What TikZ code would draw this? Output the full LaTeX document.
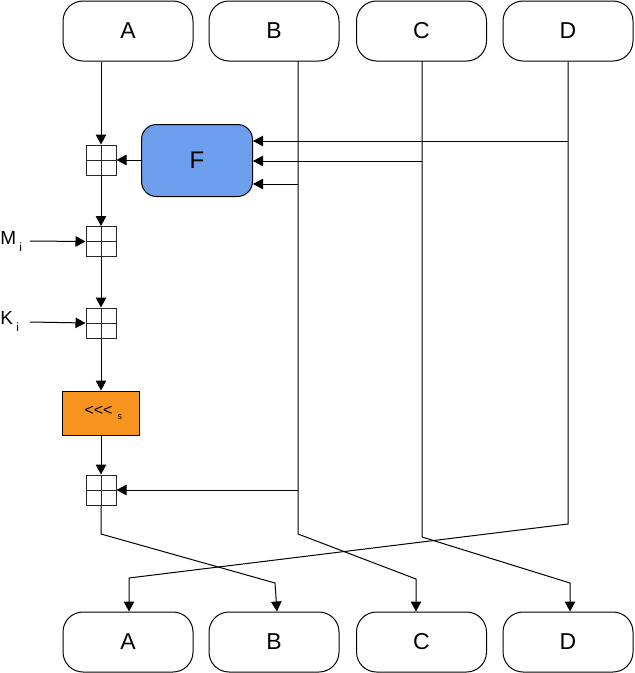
\documentclass[tikz,border=0pt]{standalone}
\usepackage{fontspec}
\setmainfont{Liberation Sans}
\usetikzlibrary{arrows.meta}
\definecolor{fblue}{HTML}{6D9EEB}
\definecolor{forange}{HTML}{F7931E}
\begin{document}
\begin{tikzpicture}[x=1pt,y=-1pt,
  line width=1pt,
  arr/.style={-{Triangle[width=10.5pt,length=10pt]}},
  regbox/.style={draw,rounded corners=20pt,minimum width=130pt,minimum height=60pt,inner sep=0pt,font=\fontsize{23}{23}\selectfont},
  addbox/.style={draw,draw=black!85,minimum width=30pt,minimum height=30pt,inner sep=0pt,fill=white,
    path picture={\draw[line width=1pt,black!85] (path picture bounding box.north) -- (path picture bounding box.south)
      (path picture bounding box.west) -- (path picture bounding box.east);}},
  lbl/.style={inner sep=0pt,font=\fontsize{19}{19}\selectfont}]
\useasboundingbox (0,0) rectangle (635,673);
% top registers
\node[regbox] (A) at (128,31) {A};
\node[regbox] (B) at (274,31) {B};
\node[regbox] (C) at (421.5,31) {C};
\node[regbox] (D) at (568,31) {D};
% bottom registers
\node[regbox] (A2) at (128,642) {A};
\node[regbox] (B2) at (274,642) {B};
\node[regbox] (C2) at (421.5,642) {C};
\node[regbox] (D2) at (568,642) {D};
% F
\node[draw,fill=fblue,rounded corners=15pt,minimum width=111pt,minimum height=72pt,inner sep=0pt,font=\fontsize{24}{24}\selectfont] (F) at (197,160.5) {F};
% adders
\node[addbox] (p1) at (101,160) {};
\node[addbox] (p2) at (101,241.5) {};
\node[addbox] (p3) at (101,323) {};
\node[addbox] (p4) at (101,490) {};
% shift
\node[draw,fill=forange,minimum width=77pt,minimum height=44pt,inner sep=0pt] (S) at (101.3,413) {\hspace{4pt}\fontsize{16}{16}\selectfont{<}{<}{<}\hspace{5pt}\raisebox{-4pt}{\fontsize{9}{9}\selectfont s}};
% labels
\node[lbl,anchor=west] (M) at (0,241) {M\,\raisebox{-7pt}{\fontsize{12}{12}\selectfont i}};
\node[lbl,anchor=west] (K) at (0,321) {K\,\raisebox{-7pt}{\fontsize{12}{12}\selectfont i}};
\coordinate (Mend) at (30,241);
\coordinate (Kend) at (30,322);
% line coordinates
\coordinate (Bt) at (298,61);
\coordinate (Ct) at (422,61);
\coordinate (Db) at (568,141);
\coordinate (Cb) at (422,161);
\coordinate (Bb) at (298,184);
\coordinate (Bd) at (298,490);
% A chain
\draw[arr] (p1 |- A.south) -- (p1.north);
\draw[arr] (F.west |- p1) -- (p1.east);
\draw[arr] (p1.south) -- (p2.north);
\draw[arr] (Mend) -- (p2.west);
\draw[arr] (p2.south) -- (p3.north);
\draw[arr] (Kend) -- (p3.west);
\draw[arr] (p3.south) -- (S.north -| p3);
\draw[arr] (S.south -| p4) -- (p4.north);
% branches into F
\draw[arr] (Db) -- (F.east |- Db);
\draw[arr] (Cb) -- (F.east |- Cb);
\draw[arr] (Bb) -- (F.east |- Bb);
\draw[arr] (Bd) -- (p4.east);
% long lines
\draw[arr] (D.south) -- (568,524) -- (129,578) -- ([xshift=1pt]A2.north);
\draw[arr] (p4.south) -- (101,534) -- (275,583) -- ([xshift=3pt]B2.north);
\draw[arr] (Bt) -- (298,534) -- (416,579) -- ([xshift=-5.5pt]C2.north);
\draw[arr] (Ct) -- (422,537) -- (570,583) -- ([xshift=2pt]D2.north);
\end{tikzpicture}
\end{document}
